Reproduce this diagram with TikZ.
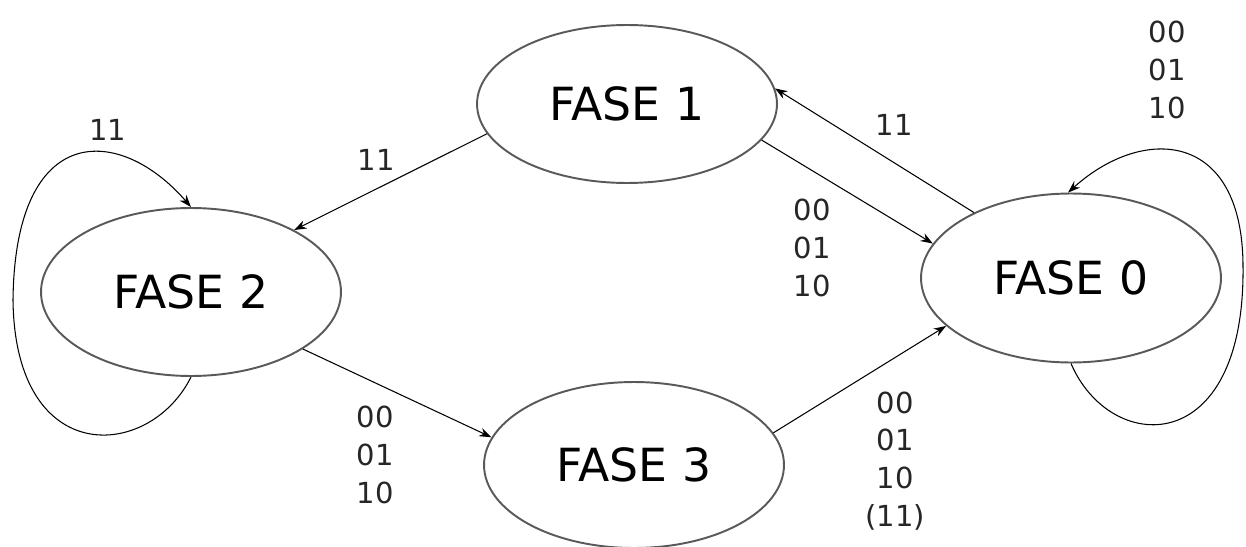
\documentclass[tikz,border=0pt]{standalone}
\usepackage{fontspec}
\setmainfont{DejaVu Sans}
\usetikzlibrary{shapes.geometric,arrows.meta}

\begin{document}
\begin{tikzpicture}[x=0.02cm, y=-0.02cm,
    fase/.style={draw=black!65, line width=1.1pt, ellipse, inner sep=0pt,
        minimum width=6cm, minimum height=3.32cm, font=\fontsize{26}{30}\selectfont},
    cond/.style={text=black!85, align=center, inner sep=0pt, font=\fontsize{16.5}{21.5}\selectfont},
    trans/.style={-{Stealth[length=7pt, width=5pt]}, line width=0.6pt}]
    \useasboundingbox (0,0) rectangle (1246,547);

    % states
    \node[fase, minimum height=3.16cm] (f1) at (627,104) {FASE 1};
    \node[fase, minimum height=3.36cm] (f2) at (191,292) {FASE 2};
    \node[fase] (f3) at (634,465) {FASE 3};
    \node[fase, minimum height=3.38cm] (f0) at (1071,278) {FASE 0};

    % transitions
    \draw[trans] (f1.192) -- (f2.31);
    \draw[trans] (f0.146) -- (f1.6);
    \draw[trans] (f1.345) -- (f0.166);
    \draw[trans] (f2.333) -- (f3.169);
    \draw[trans] (f3.13) -- (f0.201);
    \draw[trans] (f2.270) .. controls (150,460) and (15,470) .. (13,300)
        .. controls (15,120) and (120,125) .. (f2.90);
    \draw[trans] (f0.270) .. controls (1110,455) and (1245,460) .. (1243,267)
        .. controls (1243,130) and (1143,125) .. (f0.92);

    % conditions
    \node[cond] (c12) at (376,160) {11};
    \node[cond] (c01) at (894,125) {11};
    \node[cond] (c10) at (812,248) {00\\01\\10};
    \node[cond] (c23) at (375,455) {00\\01\\10};
    \node[cond] (c30) at (895,461) {00\\01\\10\\(11)};
    \node[cond] (c22) at (108,130) {11};
    \node[cond] (c00) at (1167,70) {00\\01\\10};
\end{tikzpicture}
\end{document}
